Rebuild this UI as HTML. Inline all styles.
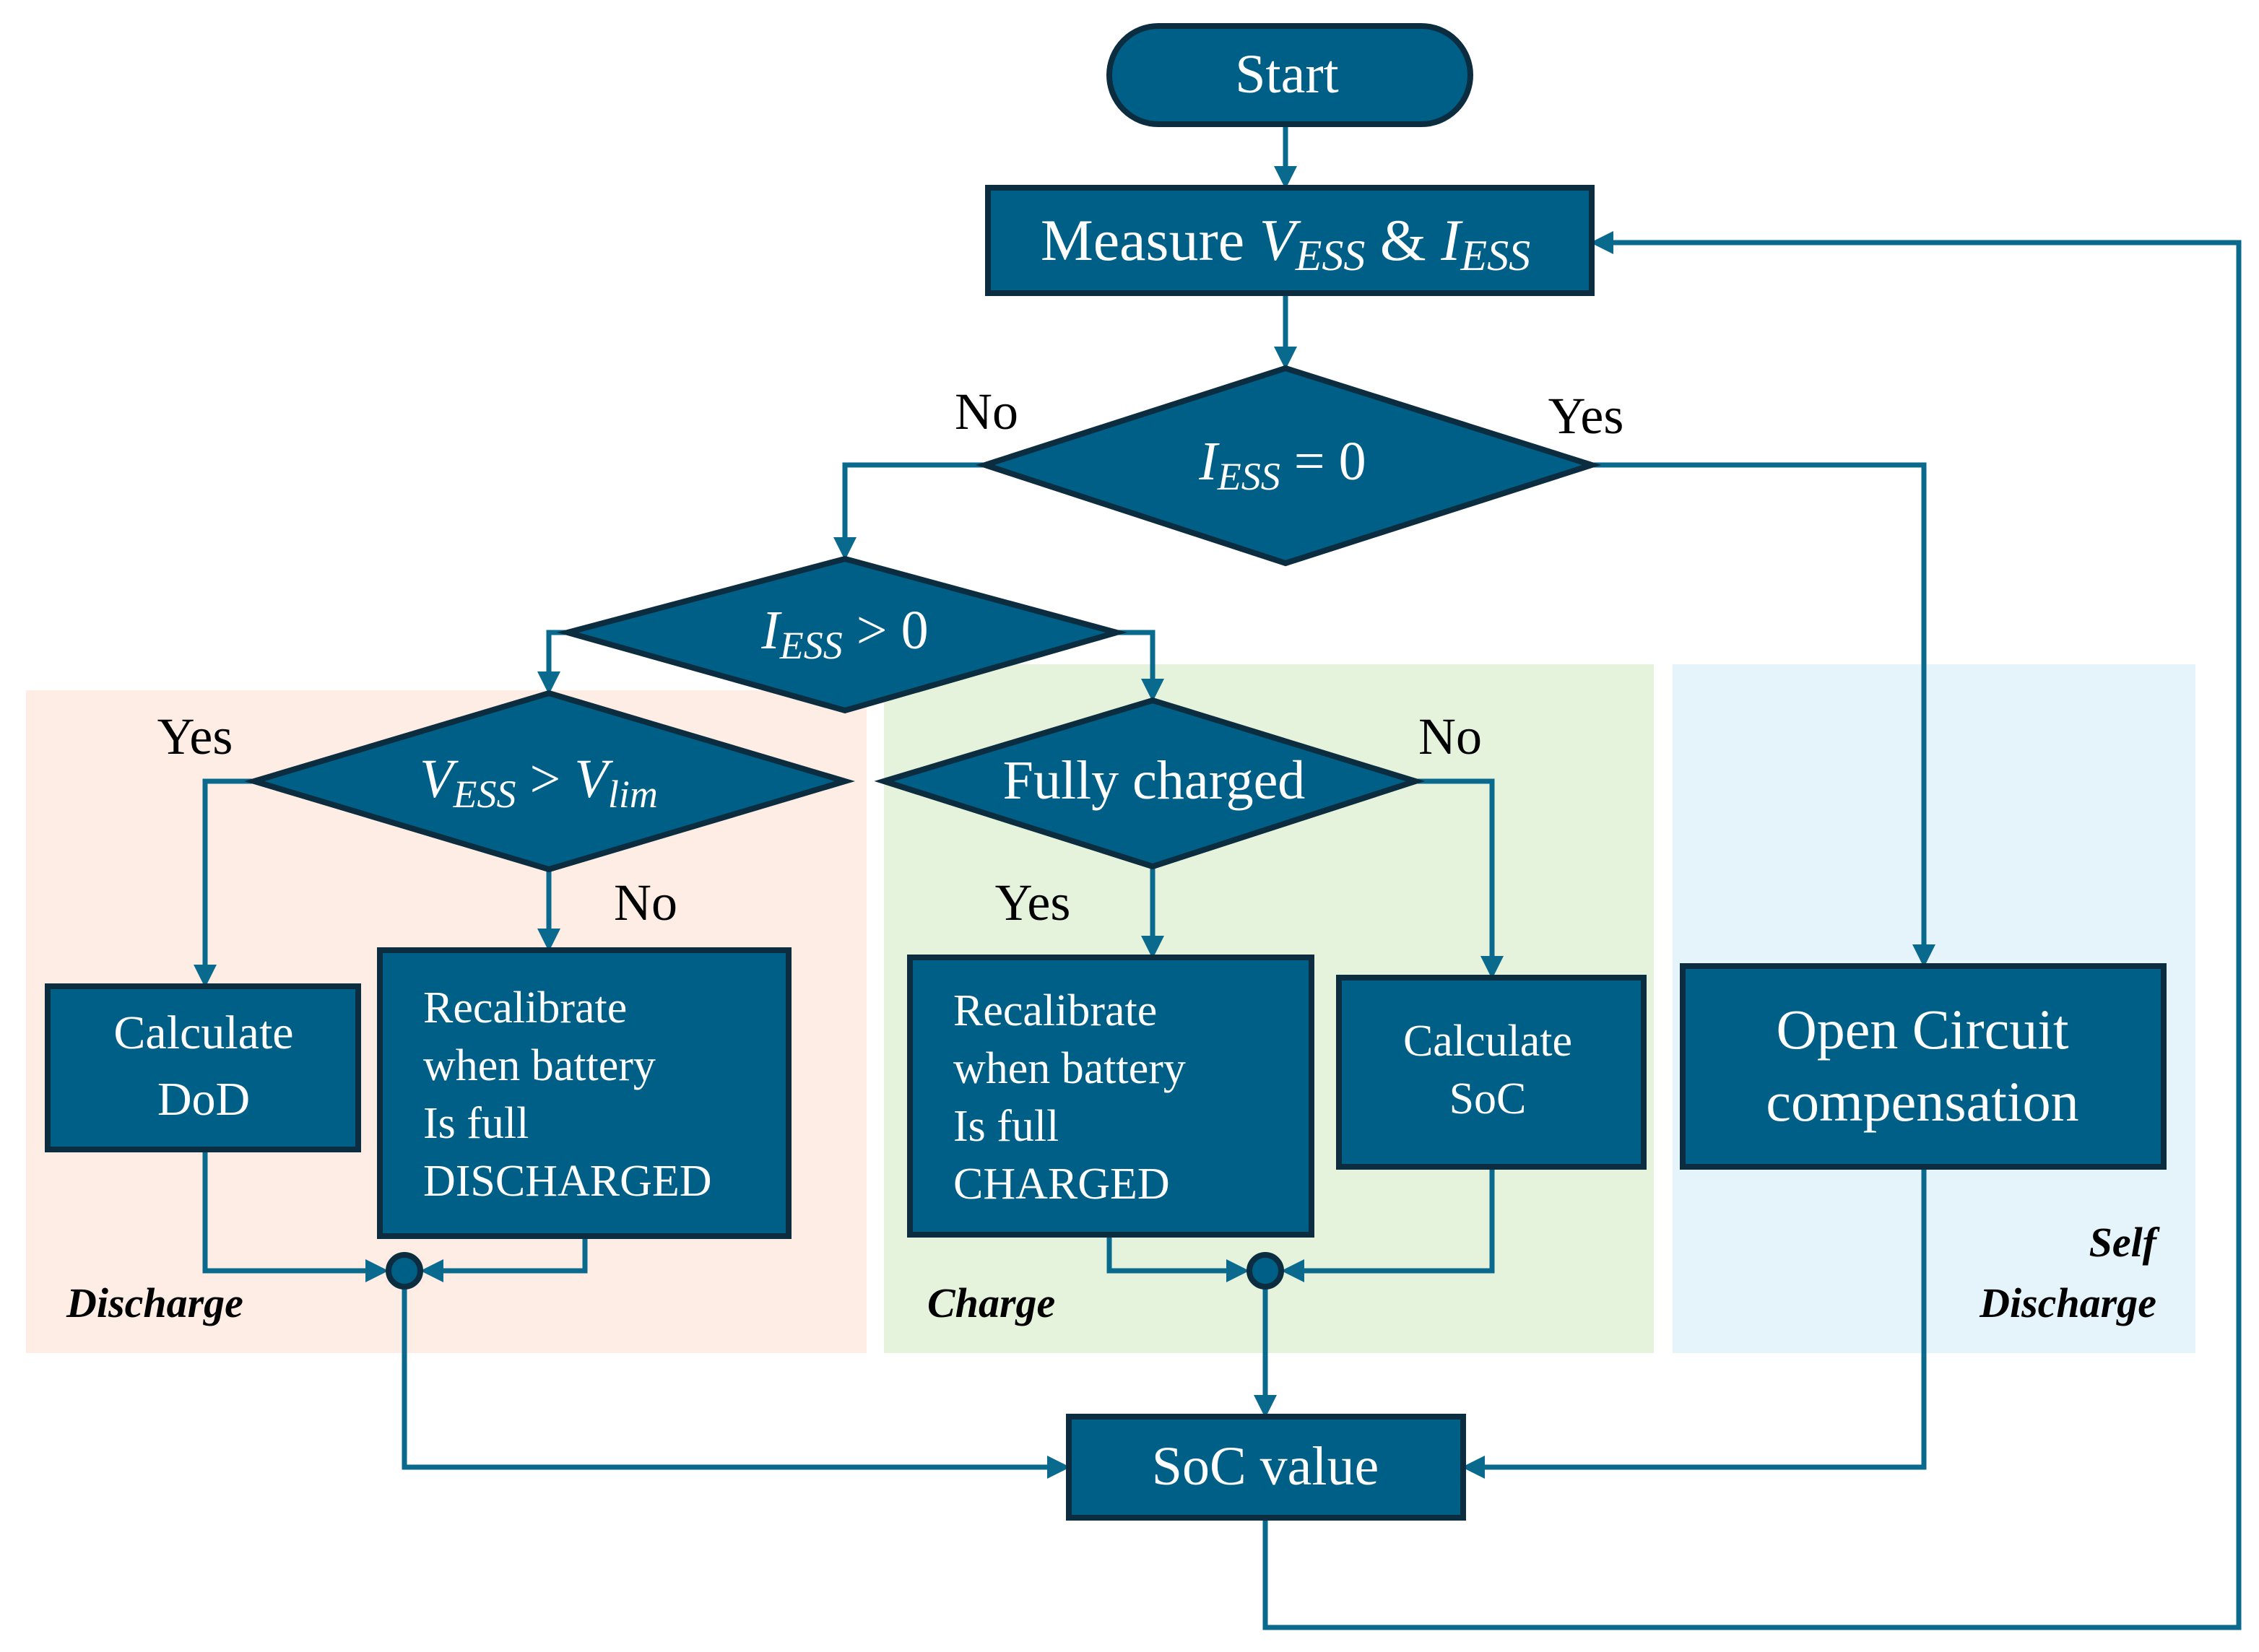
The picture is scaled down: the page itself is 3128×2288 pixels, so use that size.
<!DOCTYPE html>
<html><head><meta charset="utf-8"><style>
html,body{margin:0;padding:0;background:#fff}
svg{display:block}
text{font-family:"Liberation Serif",serif}
</style></head><body>
<svg width="3128" height="2288" viewBox="0 0 3128 2288" xmlns="http://www.w3.org/2000/svg">
<rect x="36" y="956" width="1164" height="918" fill="#fdede4"/>
<rect x="1224" y="920" width="1066" height="954" fill="#e6f3dc"/>
<rect x="2316" y="920" width="724" height="954" fill="#e5f3fb"/>

<g fill="none" stroke="#0a6a8e" stroke-width="7">
<path d="M1780 172V232"/>
<path d="M1780 406V482"/>
<path d="M1364 644H1170V746"/>
<path d="M2204 644H2664V1310"/>
<path d="M786 876H760V932"/>
<path d="M1546 876H1596V942"/>
<path d="M352 1082H284V1338"/>
<path d="M760 1204V1288"/>
<path d="M1596 1200V1298"/>
<path d="M1960 1082H2066V1326"/>
<path d="M284 1592V1760H508"/>
<path d="M810 1712V1760H612"/>
<path d="M1536 1710V1760H1700"/>
<path d="M2066 1616V1760H1804"/>
<path d="M560 1784V2032H1452"/>
<path d="M1752 1784V1934"/>
<path d="M2664 1616V2032H2054"/>
<path d="M1752 2102V2254H3100V336H2232"/>
</g>
<g fill="#0a6a8e">
<path d="M1764 230H1796L1780 262Z"/>
<path d="M1764 480H1796L1780 512Z"/>
<path d="M1154 744H1186L1170 776Z"/>
<path d="M2648 1308H2680L2664 1340Z"/>
<path d="M744 930H776L760 962Z"/>
<path d="M1580 940H1612L1596 972Z"/>
<path d="M268 1336H300L284 1368Z"/>
<path d="M744 1286H776L760 1318Z"/>
<path d="M1580 1296H1612L1596 1328Z"/>
<path d="M2050 1324H2082L2066 1356Z"/>
<path d="M506 1744V1776L538 1760Z"/>
<path d="M614 1744V1776L582 1760Z"/>
<path d="M1698 1744V1776L1730 1760Z"/>
<path d="M1806 1744V1776L1774 1760Z"/>
<path d="M1450 2016V2048L1482 2032Z"/>
<path d="M1736 1932H1768L1752 1964Z"/>
<path d="M2056 2016V2048L2024 2032Z"/>
<path d="M2234 320V352L2202 336Z"/>
</g>

<g fill="#005f86" stroke="#0b2d3f" stroke-width="8">
<rect x="1536" y="36" width="500" height="136" rx="68"/>
<rect x="1368" y="260" width="836" height="146"/>
<path d="M1364 644L1780 510L2204 644L1780 780Z"/>
<path d="M786 876L1170 774L1546 876L1170 984Z"/>
<path d="M352 1082L760 960L1170 1082L760 1204Z"/>
<path d="M1224 1082L1596 970L1960 1082L1596 1200Z"/>
<rect x="66" y="1366" width="430" height="226"/>
<rect x="526" y="1316" width="566" height="396"/>
<rect x="1260" y="1326" width="556" height="384"/>
<rect x="1854" y="1354" width="422" height="262"/>
<rect x="2330" y="1338" width="666" height="278"/>
<rect x="1480" y="1962" width="546" height="140"/>
<circle cx="560" cy="1760" r="22"/>
<circle cx="1752" cy="1760" r="22"/>
</g>

<g fill="#fff" text-anchor="middle">
<text x="1782" y="128" font-size="76">Start</text>
<text x="1780" y="360" font-size="82">Measure <tspan font-style="italic">V</tspan><tspan font-style="italic" font-size="60" dy="14">ESS</tspan><tspan dy="-14"> &amp; </tspan><tspan font-style="italic">I</tspan><tspan font-style="italic" font-size="60" dy="14">ESS</tspan></text>
<text x="1776" y="664" font-size="76"><tspan font-style="italic">I</tspan><tspan font-style="italic" font-size="54" dy="14">ESS</tspan><tspan dy="-14"> = 0</tspan></text>
<text x="1170" y="898" font-size="76"><tspan font-style="italic">I</tspan><tspan font-style="italic" font-size="54" dy="14">ESS</tspan><tspan dy="-14"> &gt; 0</tspan></text>
<text x="746" y="1104" font-size="76"><tspan font-style="italic">V</tspan><tspan font-style="italic" font-size="54" dy="14">ESS</tspan><tspan dy="-14"> &gt; </tspan><tspan font-style="italic">V</tspan><tspan font-style="italic" font-size="54" dy="14">lim</tspan></text>
<text x="1598" y="1106" font-size="76">Fully charged</text>
<text x="282" y="1452" font-size="66">Calculate</text>
<text x="282" y="1544" font-size="66">DoD</text>
<text x="2060" y="1462" font-size="62">Calculate</text>
<text x="2060" y="1542" font-size="62">SoC</text>
<text x="2662" y="1452" font-size="78">Open Circuit</text>
<text x="2662" y="1552" font-size="78">compensation</text>
<text x="1752" y="2056" font-size="76">SoC value</text>
</g>
<g fill="#fff" font-size="62">
<text x="586" y="1416">Recalibrate</text>
<text x="586" y="1496">when battery</text>
<text x="586" y="1576">Is full</text>
<text x="586" y="1656">DISCHARGED</text>
<text x="1320" y="1420">Recalibrate</text>
<text x="1320" y="1500">when battery</text>
<text x="1320" y="1580">Is full</text>
<text x="1320" y="1660">CHARGED</text>
</g>
<g fill="#000" font-size="72" text-anchor="middle">
<text x="1366" y="594">No</text>
<text x="2196" y="600">Yes</text>
<text x="270" y="1044">Yes</text>
<text x="894" y="1274">No</text>
<text x="1430" y="1274">Yes</text>
<text x="2008" y="1044">No</text>
</g>
<g fill="#000" font-size="58" font-weight="bold" font-style="italic">
<text x="92" y="1824">Discharge</text>
<text x="1284" y="1824">Charge</text>
<text x="2986" y="1740" text-anchor="end">Self</text>
<text x="2986" y="1824" text-anchor="end">Discharge</text>
</g>
</svg>
</body></html>
